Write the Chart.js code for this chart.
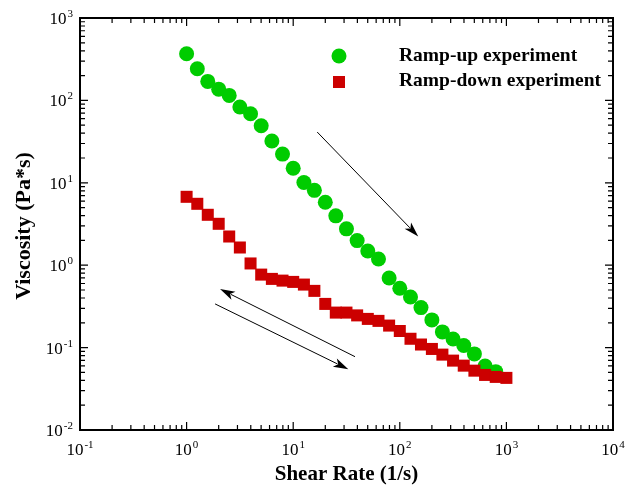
<!DOCTYPE html>
<html>
<head>
<meta charset="utf-8">
<script src="https://cdn.jsdelivr.net/npm/chart.js@4.4.0/dist/chart.umd.min.js"></script>
<style>
  html, body { margin: 0; padding: 0; background: #fff; }
</style>
</head>
<body>
<canvas id="viscChart" width="636" height="487"></canvas>
<script>
// shear rate (1/s)
const shearRate = [1, 1.26, 1.58, 2.0, 2.51, 3.16, 3.98, 5.01, 6.31, 7.94,
  10, 12.6, 15.8, 20.0, 25.1, 31.6, 39.8, 50.1, 63.1, 79.4,
  100, 126, 158, 200, 251, 316, 398, 501, 631, 794, 1000];

// viscosity (Pa*s)
const rampUp = [368, 242, 170, 137, 115, 83, 68.8, 49.2, 32.1, 22.3,
  15.0, 10.1, 8.1, 5.8, 3.97, 2.76, 1.99, 1.49, 1.19, 0.70,
  0.526, 0.412, 0.306, 0.217, 0.155, 0.127, 0.106, 0.0838, 0.0598, 0.0511];
const rampDown = [6.76, 5.56, 4.09, 3.18, 2.23, 1.64, 1.05, 0.769, 0.682, 0.650,
  0.627, 0.582, 0.488, 0.339, 0.266, 0.266, 0.246, 0.223, 0.211, 0.185,
  0.159, 0.128, 0.109, 0.0963, 0.0822, 0.0695, 0.0604, 0.0525, 0.0466, 0.0441, 0.0429];

const seriesNames = ["Ramp-up experiment", "Ramp-down experiment"];
const xMajor = [0.1, 1, 10, 100, 1000, 10000];
const xExp = ["-1", "0", "1", "2", "3", "4"];
const yMajor = [0.01, 0.1, 1, 10, 100, 1000];
const yExp = ["-2", "-1", "0", "1", "2", "3"];
const minorSteps = [2, 3, 4, 5, 6, 7, 8, 9];

// arrows in data coordinates: [x0, y0, x1, y1], head at the second point
const arrows = [
  [16.8, 41.3, 149, 2.23],
  [38.0, 0.0776, 2.06, 0.515],
  [1.85, 0.339, 32.9, 0.0546]
];

const GREEN = "rgb(0,204,0)";
const RED = "rgb(204,0,0)";
const SERIF = '"Liberation Serif", "Times New Roman", serif';

function drawPow(ctx, exp, x, y, align) {
  ctx.font = "17px " + SERIF;
  const wBase = ctx.measureText("10").width;
  ctx.font = "11px " + SERIF;
  const wExp = ctx.measureText(exp).width;
  const total = wBase + 1 + wExp;
  let start = align === "right" ? x - total : x - total / 2;
  ctx.textAlign = "left";
  ctx.textBaseline = "alphabetic";
  ctx.font = "17px " + SERIF;
  ctx.fillText("10", start, y);
  ctx.font = "11px " + SERIF;
  ctx.fillText(exp, start + wBase + 1, y - 7);
}

function drawArrow(ctx, x0, y0, x1, y1) {
  const ang = Math.atan2(y1 - y0, x1 - x0);
  const len = 15, half = 4.5;
  ctx.beginPath();
  ctx.moveTo(x0, y0);
  ctx.lineTo(x1 - Math.cos(ang) * len * 0.8, y1 - Math.sin(ang) * len * 0.8);
  ctx.stroke();
  ctx.beginPath();
  ctx.moveTo(x1, y1);
  ctx.lineTo(x1 - Math.cos(ang) * len + Math.sin(ang) * half, y1 - Math.sin(ang) * len - Math.cos(ang) * half);
  ctx.lineTo(x1 - Math.cos(ang) * len * 0.75, y1 - Math.sin(ang) * len * 0.75);
  ctx.lineTo(x1 - Math.cos(ang) * len - Math.sin(ang) * half, y1 - Math.sin(ang) * len + Math.cos(ang) * half);
  ctx.closePath();
  ctx.fill();
}

const decorations = {
  id: "decorations",
  afterDraw(chart) {
    const ctx = chart.ctx;
    const area = chart.chartArea;
    const xs = chart.scales.x, ys = chart.scales.y;
    ctx.save();
    ctx.strokeStyle = "#000";
    ctx.fillStyle = "#000";

    // ticks, inward on all four sides
    ctx.lineWidth = 1.2;
    ctx.beginPath();
    xMajor.forEach((v, i) => {
      const px = xs.getPixelForValue(v);
      ctx.moveTo(px, area.bottom); ctx.lineTo(px, area.bottom - 8);
      ctx.moveTo(px, area.top); ctx.lineTo(px, area.top + 8);
      if (i < xMajor.length - 1) {
        minorSteps.forEach(m => {
          const mx = xs.getPixelForValue(v * m);
          ctx.moveTo(mx, area.bottom); ctx.lineTo(mx, area.bottom - 5);
          ctx.moveTo(mx, area.top); ctx.lineTo(mx, area.top + 5);
        });
      }
    });
    yMajor.forEach((v, i) => {
      const py = ys.getPixelForValue(v);
      ctx.moveTo(area.left, py); ctx.lineTo(area.left + 8, py);
      ctx.moveTo(area.right, py); ctx.lineTo(area.right - 8, py);
      if (i < yMajor.length - 1) {
        minorSteps.forEach(m => {
          const my = ys.getPixelForValue(v * m);
          ctx.moveTo(area.left, my); ctx.lineTo(area.left + 5, my);
          ctx.moveTo(area.right, my); ctx.lineTo(area.right - 5, my);
        });
      }
    });
    ctx.stroke();

    // frame
    ctx.lineWidth = 2;
    ctx.strokeRect(area.left, area.top, area.right - area.left, area.bottom - area.top);

    // tick labels
    xMajor.forEach((v, i) => drawPow(ctx, xExp[i], xs.getPixelForValue(v), area.bottom + 25, "center"));
    yMajor.forEach((v, i) => drawPow(ctx, yExp[i], area.left - 7, ys.getPixelForValue(v) + 6, "right"));

    // axis titles
    ctx.font = "bold 21px " + SERIF;
    ctx.textAlign = "center";
    ctx.textBaseline = "alphabetic";
    ctx.fillText("Shear Rate (1/s)", (area.left + area.right) / 2, 480);
    ctx.save();
    ctx.translate(24, 226);
    ctx.rotate(-Math.PI / 2);
    ctx.font = "bold 22px " + SERIF;
    ctx.textBaseline = "middle";
    ctx.fillText("Viscosity (Pa*s)", 0, 0);
    ctx.restore();

    // arrows
    ctx.lineWidth = 1;
    arrows.forEach(a => {
      drawArrow(ctx, xs.getPixelForValue(a[0]), ys.getPixelForValue(a[1]),
        xs.getPixelForValue(a[2]), ys.getPixelForValue(a[3]));
    });

    // legend
    ctx.fillStyle = GREEN;
    ctx.beginPath();
    ctx.arc(339, 56, 7.5, 0, Math.PI * 2);
    ctx.fill();
    ctx.fillStyle = RED;
    ctx.fillRect(333, 76, 12, 12);
    ctx.fillStyle = "#000";
    ctx.font = "bold 19.5px " + SERIF;
    ctx.textAlign = "left";
    ctx.fillText(seriesNames[0], 399, 61);
    ctx.fillText(seriesNames[1], 399, 86);
    ctx.restore();
  }
};

const ctx = document.getElementById("viscChart").getContext("2d");
new Chart(ctx, {
  type: "scatter",
  data: {
    datasets: [{
      label: seriesNames[0],
      data: rampUp.map((v, i) => ({ x: shearRate[i], y: v })),
      pointStyle: "circle",
      pointRadius: 7.5,
      pointHoverRadius: 7.5,
      backgroundColor: GREEN,
      borderWidth: 0,
      order: 2
    }, {
      label: seriesNames[1],
      data: rampDown.map((v, i) => ({ x: shearRate[i], y: v })),
      pointStyle: "rect",
      pointRadius: 8.5,
      pointHoverRadius: 8.5,
      backgroundColor: RED,
      borderWidth: 0,
      order: 1
    }]
  },
  options: {
    responsive: false,
    animation: false,
    devicePixelRatio: 1,
    layout: { padding: { top: 18, right: 23, left: 0, bottom: 0 } },
    plugins: {
      legend: { display: false },
      tooltip: { enabled: false }
    },
    scales: {
      x: {
        type: "logarithmic",
        min: 0.1,
        max: 10000,
        ticks: { display: false },
        grid: { display: false, drawTicks: false },
        border: { display: false },
        afterFit(scale) { scale.height = 57; }
      },
      y: {
        type: "logarithmic",
        min: 0.01,
        max: 1000,
        ticks: { display: false },
        grid: { display: false, drawTicks: false },
        border: { display: false },
        afterFit(scale) { scale.width = 80; }
      }
    }
  },
  plugins: [decorations]
});
</script>
</body>
</html>
